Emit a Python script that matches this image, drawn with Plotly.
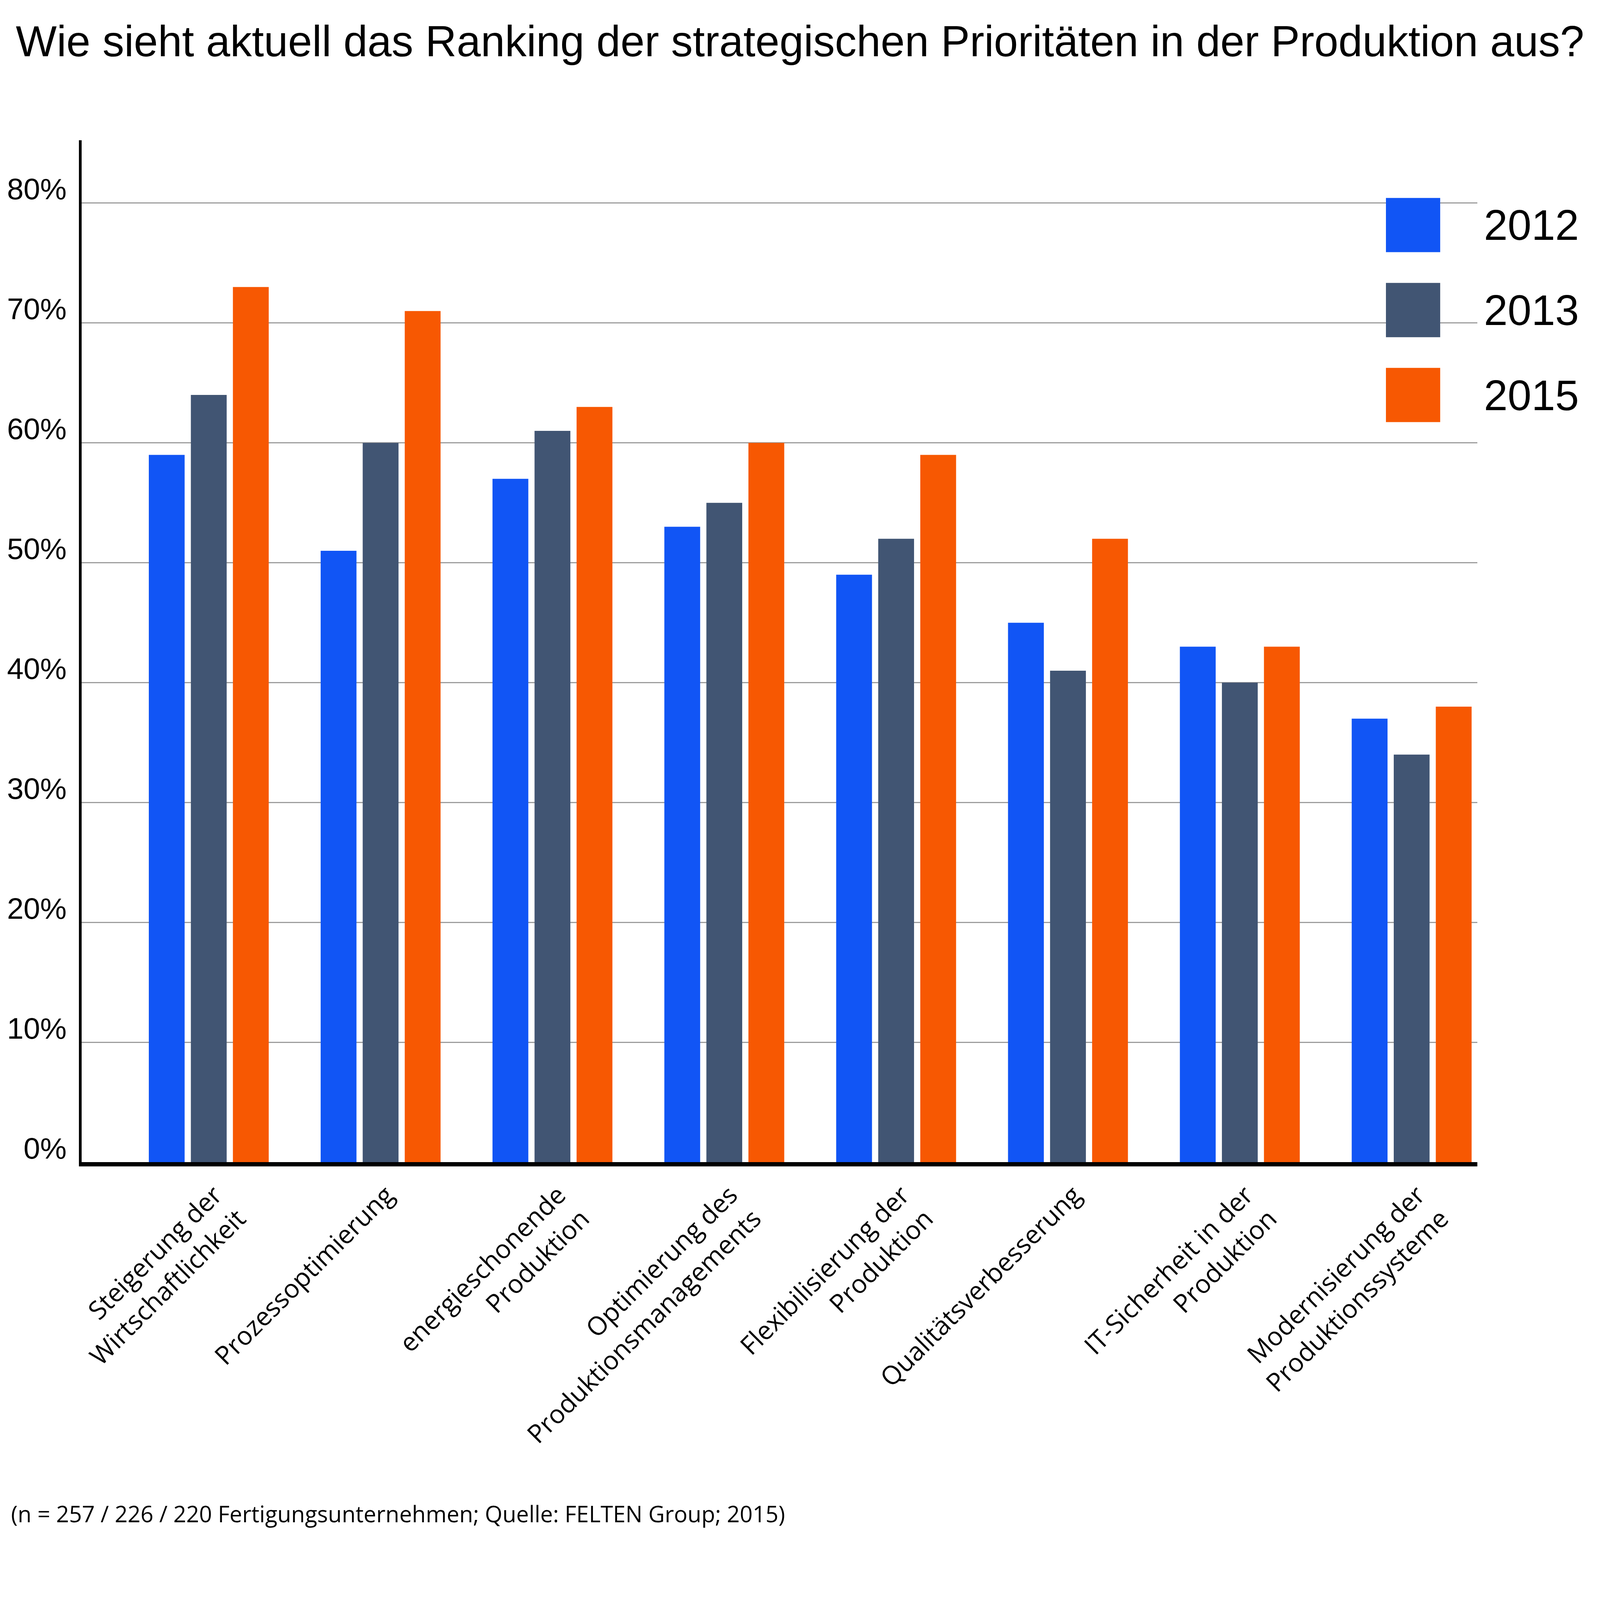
import plotly.graph_objects as go

# ---- data ----
categories = [
    "Steigerung der<br>Wirtschaftlichkeit",
    "Prozessoptimierung",
    "energieschonende<br>Produktion",
    "Optimierung des<br>Produktionsmanagements",
    "Flexibilisierung der<br>Produktion",
    "Qualitätsverbesserung",
    "IT-Sicherheit in der<br>Produktion",
    "Modernisierung der<br>Produktionssysteme",
]
years = ["2012", "2013", "2015"]
values_2012 = [59, 51, 57, 53, 49, 45, 43, 37]
values_2013 = [64, 60, 61, 55, 52, 41, 40, 34]
values_2015 = [73, 71, 63, 60, 59, 52, 43, 38]
y_ticks = [0, 10, 20, 30, 40, 50, 60, 70, 80]
y_tick_labels = [f"{v}%" for v in y_ticks]

title_text = "Wie sieht aktuell das Ranking der strategischen Prioritäten in der Produktion aus?"
footnote_text = "(n = 257 / 226 / 220 Fertigungsunternehmen; Quelle: FELTEN Group; 2015)"

# ---- styles ----
colors = ["#1155f5", "#415573", "#f75802"]
series = [values_2012, values_2013, values_2015]
W, H = 5537, 5296
ARIAL = "Liberation Sans, Arial, sans-serif"
MYRIAD = "Open Sans, Noto Sans, sans-serif"

fig = go.Figure()
for yr, vals, col in zip(years, series, colors):
    fig.add_trace(go.Bar(
        x=categories, y=vals, name=yr, marker=dict(color=col, line=dict(width=0)),
        showlegend=False, hoverinfo="skip",
    ))

# legend-like swatches drawn on an auxiliary axis
for yr, col in zip(years, colors):
    fig.add_trace(go.Bar(
        x=[1], y=[yr], orientation="h", marker=dict(color=col, line=dict(width=0)),
        width=0.639, xaxis="x2", yaxis="y2", showlegend=False, hoverinfo="skip",
    ))

fig.update_layout(
    width=W, height=H,
    margin=dict(l=283, r=424, t=485, b=1274, autoexpand=False),
    paper_bgcolor="white", plot_bgcolor="white",
    barmode="group", bargap=0.266, bargroupgap=0.148,
    title=dict(
        text=title_text, xref="container", yref="container",
        x=0.5, y=1 - 142 / H, xanchor="center", yanchor="middle",
        font=dict(family=ARIAL, size=150, color="black"),
    ),
    xaxis=dict(
        type="category", range=[-0.739, 7.383],
        showline=True, linecolor="black", linewidth=14,
        ticks="", showgrid=False, zeroline=False,
        tickangle=-45, tickfont=dict(family=MYRIAD, size=89, color="black"),
        ticklabelshift=20, ticklabelstandoff=12,
        automargin=False,
    ),
    yaxis=dict(
        range=[0, 85.25], tickmode="array", tickvals=y_ticks, ticktext=y_tick_labels,
        showgrid=True, gridcolor="#9d9d9d", gridwidth=4,
        showline=True, linecolor="black", linewidth=10,
        zeroline=False, ticks="",
        tickfont=dict(family=ARIAL, size=103, color="black"),
        ticklabelshift=-49, ticklabelstandoff=22,
        automargin=False,
    ),
    xaxis2=dict(
        domain=[0.9344, 0.9733], range=[0, 1], anchor="y2",
        visible=False, fixedrange=True,
    ),
    yaxis2=dict(
        domain=[0.7241, 0.9435], anchor="x2", type="category",
        categoryorder="array", categoryarray=years,
        range=[2.3195, -0.3195], side="right",
        showgrid=False, zeroline=False, showline=False, ticks="",
        tickfont=dict(family=ARIAL, size=148, color="black"),
        ticklabelstandoff=150, automargin=False,
    ),
    annotations=[dict(
        text=footnote_text, xref="paper", yref="paper",
        x=-0.0511, y=-0.3438, xanchor="left", yanchor="middle",
        showarrow=False, font=dict(family=MYRIAD, size=78, color="black"),
    )],
)

# scale the fixed-size figure so that it fits the browser viewport
fit_script = """
(function(){
  var gd = document.getElementById('{plot_id}');
  document.documentElement.style.overflow = 'hidden';
  document.body.style.margin = '0';
  document.body.style.overflow = 'hidden';
  var s = Math.min(window.innerWidth / %d, window.innerHeight / %d, 1);
  gd.style.transformOrigin = '0 0';
  gd.style.transform = 'scale(' + s + ')';
})();
""" % (W, H)

fig.write_html("out.html", post_script=fit_script, config={"displayModeBar": False})
